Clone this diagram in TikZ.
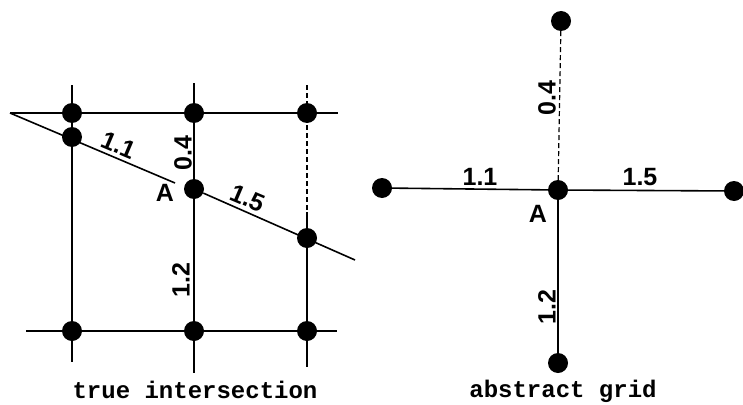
\documentclass[tikz,border=0pt]{standalone}
\usepackage{fontspec}
\newfontfamily\hand{Liberation Sans}
\newfontfamily\capfont{Liberation Mono}
\tikzset{
  gdot/.style={circle,fill=black,inner sep=0pt,minimum size=20pt},
  gline/.style={line width=1.6pt,black},
  faint/.style={line width=1.2pt,black,dash pattern=on 5pt off 3pt},
  lbl/.style={font=\hand\bfseries\fontsize{25}{25}\selectfont,inner sep=0pt},
  captext/.style={font=\capfont\bfseries\fontsize{24}{24}\selectfont,inner sep=0pt}
}
\begin{document}
\begin{tikzpicture}[x=1pt,y=-1pt]
\useasboundingbox (0,0) rectangle (743,404);
% ---------- left: true intersection ----------
\coordinate (hs) at (10,113);
\coordinate (he) at (338,113);
\coordinate (bs) at (26,331);
\coordinate (be) at (337,331);
\coordinate (v1s) at (72,85);
\coordinate (v1e) at (72,362);
\coordinate (v2s) at (194,83);
\coordinate (v2e) at (194,373);
\coordinate (v3s) at (307,85);
\coordinate (v3m) at (307,212);
\coordinate (v3e) at (307,367);
\coordinate (dg) at (175,183);
\coordinate (de) at (355,260);

\draw[gline] (hs) -- (he);
\draw[gline] (bs) -- (be);
\draw[gline] (v1s) -- (v1e);
\draw[gline] (v2s) -- (v2e);
\draw[faint] (v3s) -- (v3m);
\draw[gline] (v3m) -- (v3e);

\node[gdot] (t1) at (72,113) {};
\node[gdot] (t2) at (194,113) {};
\node[gdot] (t3) at (307,113) {};
\node[gdot] (d1) at (72,137) {};
\node[gdot] (a1) at (194,189) {};
\node[gdot] (d3) at (307,238) {};
\node[gdot] (b1) at (72,331) {};
\node[gdot] (b2) at (194,331) {};
\node[gdot] (b3) at (307,331) {};

\draw[gline] (hs) -- (dg);
\draw[gline] (a1) -- (de);

\node[lbl,rotate=-23] (l11) at (119,145) {1.1};
\node[lbl,rotate=-23] (l15) at (248,198) {1.5};
\node[lbl,rotate=90] (l04) at (183,153) {0.4};
\node[lbl,rotate=90] (l12) at (181,280) {1.2};
\node[lbl] (lA) at (165,193) {A};
\node[captext] (c1) at (195,390) {true intersection};

% ---------- right: abstract grid ----------
\node[gdot] (T) at (561,21) {};
\node[gdot] (L) at (382,188) {};
\node[gdot] (A) at (558,190) {};
\node[gdot] (R) at (734,191) {};
\node[gdot] (B) at (558,363) {};

\draw[faint] (T) -- (A);
\draw[gline] (L) -- (A);
\draw[gline] (A) -- (R);
\draw[gline] (A) -- (B);

\node[lbl] (r11) at (480,177) {1.1};
\node[lbl] (r15) at (640,177) {1.5};
\node[lbl,rotate=90] (r04) at (547,98) {0.4};
\node[lbl,rotate=90] (r12) at (547,307) {1.2};
\node[lbl] (rA) at (538,214) {A};
\node[captext] (c2) at (563,391) {abstract grid};
\end{tikzpicture}
\end{document}
